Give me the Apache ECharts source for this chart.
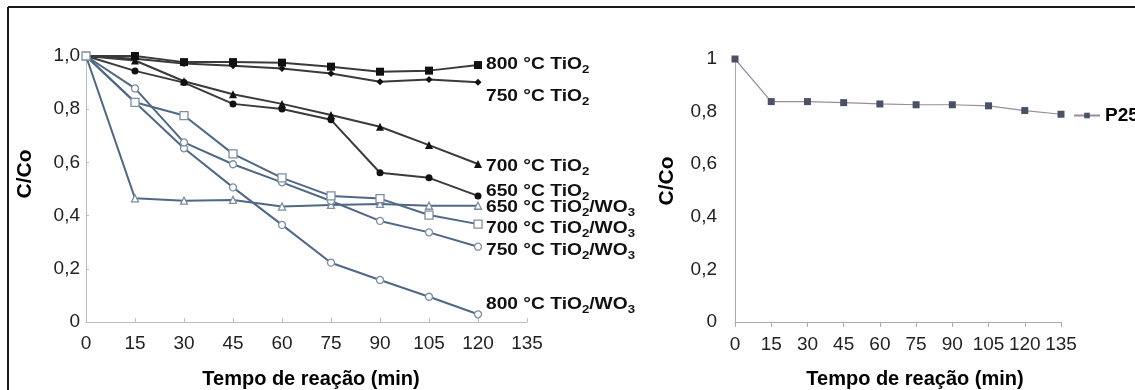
<!DOCTYPE html>
<html>
<head>
<meta charset="utf-8">
<script src="https://cdn.jsdelivr.net/npm/echarts@6/dist/echarts.min.js"></script>
<style>
html,body{margin:0;padding:0;background:#fff;}
#chart{width:1135px;height:390px;}
</style>
</head>
<body>
<div id="chart"></div>
<script>
// ---- data ----
var timeLeft = [0, 15, 30, 45, 60, 75, 90, 105, 120];
var tio2_800 = [1.0, 1.0, 0.977, 0.977, 0.975, 0.96, 0.941, 0.945, 0.966];
var tio2_750 = [1.0, 0.99, 0.972, 0.963, 0.953, 0.934, 0.903, 0.912, 0.901];
var tio2_700 = [1.0, 0.983, 0.905, 0.856, 0.82, 0.778, 0.734, 0.665, 0.594];
var tio2_650 = [1.0, 0.944, 0.9, 0.82, 0.801, 0.76, 0.561, 0.542, 0.474];
var wo3_650 = [1.0, 0.465, 0.456, 0.459, 0.434, 0.44, 0.444, 0.437, 0.437];
var wo3_700 = [1.0, 0.826, 0.776, 0.632, 0.542, 0.474, 0.464, 0.402, 0.368];
var wo3_750 = [1.0, 0.878, 0.675, 0.593, 0.525, 0.455, 0.38, 0.337, 0.283];
var wo3_800 = [1.0, 0.826, 0.653, 0.506, 0.365, 0.223, 0.158, 0.095, 0.029];

var timeRight = [0, 15, 30, 45, 60, 75, 90, 105, 120, 135];
var p25 = [1.0, 0.838, 0.838, 0.834, 0.829, 0.826, 0.826, 0.822, 0.804, 0.79];

var leftLabels = ['800 °C TiO|2', '750 °C TiO|2', '700 °C TiO|2', '650 °C TiO|2',
  '650 °C TiO|2|/WO|3', '700 °C TiO|2|/WO|3', '750 °C TiO|2|/WO|3', '800 °C TiO|2|/WO|3'];
var xTitle = 'Tempo de reação (min)';
var yTitle = 'C/Co';

// ---- helpers ----
var FONT = '"Liberation Sans", Arial, Helvetica, sans-serif';
function pairs(xs, ys) { return xs.map(function (x, i) { return [x, ys[i]]; }); }
function richLabel(spec) {
  var parts = spec.split('|');
  var out = '';
  for (var i = 0; i < parts.length; i++) {
    out += (i % 2 === 0 ? '{b|' : '{s|') + parts[i] + '}';
  }
  return out;
}
var richStyles = {
  b: { font: 'bold 16px ' + FONT, fill: '#111', lineHeight: 20, verticalAlign: 'middle' },
  s: { font: 'bold 11px ' + FONT, fill: '#111', lineHeight: 12, verticalAlign: 'bottom' }
};
function fmtLeft(v) { return v === 0 ? '0' : v.toFixed(1).replace('.', ','); }
function fmtRight(v) { return String(+v.toFixed(1)).replace('.', ','); }

var blackLine = '#3a3a3a', blackMark = '#111';
var blueLine = '#4e6886', openBorder = '#7d8ea0';

function blackSeries(name, data, symbol, size) {
  return {
    type: 'line', name: name, xAxisIndex: 0, yAxisIndex: 0,
    data: pairs(timeLeft, data), symbol: symbol, symbolSize: size,
    lineStyle: { color: blackLine, width: 2 },
    itemStyle: { color: blackMark, borderColor: blackMark, borderWidth: 0 },
    emphasis: { disabled: true }, animation: false, z: 3
  };
}
function blueSeries(name, data, symbol, size) {
  return {
    type: 'line', name: name, xAxisIndex: 0, yAxisIndex: 0,
    data: pairs(timeLeft, data), symbol: symbol, symbolSize: size,
    lineStyle: { color: blueLine, width: 2 },
    itemStyle: { color: '#fff', borderColor: openBorder, borderWidth: 1.3 },
    emphasis: { disabled: true }, animation: false, z: 4
  };
}

// label positions (pixel), placed next to the series ends
var labelPos = [[486, 65], [486, 97], [486, 167], [486, 192], [486, 208], [486, 229], [486, 251], [486, 305]];

var graphics = [
  { type: 'line', shape: { x1: 8, y1: 7, x2: 1135, y2: 7 }, style: { stroke: '#1a1a1a', lineWidth: 2 } },
  { type: 'line', shape: { x1: 8, y1: 7, x2: 8, y2: 390 }, style: { stroke: '#1a1a1a', lineWidth: 2 } },
  { type: 'text', x: 311, y: 379, style: { text: xTitle, font: 'bold 20px ' + FONT, fill: '#000', align: 'center', verticalAlign: 'middle' } },
  { type: 'text', x: 915, y: 379, style: { text: xTitle, font: 'bold 20px ' + FONT, fill: '#000', align: 'center', verticalAlign: 'middle' } },
  { type: 'text', x: 25, y: 174, rotation: Math.PI / 2, style: { text: yTitle, font: 'bold 21px ' + FONT, fill: '#000', align: 'center', verticalAlign: 'middle' } },
  { type: 'text', x: 667, y: 181, rotation: Math.PI / 2, style: { text: yTitle, font: 'bold 21px ' + FONT, fill: '#000', align: 'center', verticalAlign: 'middle' } }
];
leftLabels.forEach(function (l, i) {
  graphics.push({
    type: 'text', x: labelPos[i][0], y: labelPos[i][1], scaleX: 1.2, originX: 0, originY: 0,
    style: { text: richLabel(l), rich: richStyles, align: 'left', verticalAlign: 'middle' }
  });
});

var axisGray = '#bcbcbc';
var option = {
  backgroundColor: '#fff',
  animation: false,
  textStyle: { fontFamily: FONT },
  grid: [
    { left: 86, top: 56, width: 441, height: 266 },
    { left: 735, top: 59, width: 326, height: 263 }
  ],
  legend: {
    data: ['P25'], left: 1073, top: 106, itemWidth: 26, itemHeight: 7, padding: 0,
    textStyle: { fontFamily: FONT, fontSize: 19, fontWeight: 'bold', color: '#000' },
    selectedMode: false
  },
  xAxis: [
    {
      gridIndex: 0, type: 'value', min: 0, max: 135, interval: 15,
      axisLine: { show: true, lineStyle: { color: axisGray, width: 1 } },
      axisTick: { show: true, inside: true, length: 4, lineStyle: { color: axisGray } },
      axisLabel: { fontSize: 19, color: '#222', margin: 12, fontFamily: FONT },
      splitLine: { show: false }
    },
    {
      gridIndex: 1, type: 'value', min: 0, max: 135, interval: 15,
      axisLine: { show: true, lineStyle: { color: '#aaaaaa', width: 1 } },
      axisTick: { show: true, inside: false, length: 5, lineStyle: { color: '#aaaaaa' } },
      axisLabel: { fontSize: 19, color: '#222', margin: 13, fontFamily: FONT },
      splitLine: { show: false }
    }
  ],
  yAxis: [
    {
      gridIndex: 0, type: 'value', min: 0, max: 1, interval: 0.2,
      axisLine: { show: true, lineStyle: { color: axisGray, width: 1 } },
      axisTick: { show: true, inside: true, length: 3, lineStyle: { color: axisGray } },
      axisLabel: { fontSize: 19, color: '#222', margin: 6, formatter: fmtLeft, fontFamily: FONT },
      splitLine: { show: false }
    },
    {
      gridIndex: 1, type: 'value', min: 0, max: 1, interval: 0.2,
      axisLine: { show: true, lineStyle: { color: '#aaaaaa', width: 1 } },
      axisTick: { show: false },
      axisLabel: { fontSize: 19, color: '#222', margin: 18, formatter: fmtRight, fontFamily: FONT },
      splitLine: { show: false }
    }
  ],
  series: [
    blackSeries('800 °C TiO2', tio2_800, 'rect', 8),
    blackSeries('750 °C TiO2', tio2_750, 'diamond', 7),
    blackSeries('700 °C TiO2', tio2_700, 'triangle', 8),
    blackSeries('650 °C TiO2', tio2_650, 'circle', 7),
    blueSeries('650 °C TiO2/WO3', wo3_650, 'triangle', 7),
    blueSeries('800 °C TiO2/WO3', wo3_800, 'circle', 7),
    blueSeries('750 °C TiO2/WO3', wo3_750, 'circle', 7),
    blueSeries('700 °C TiO2/WO3', wo3_700, 'rect', 8),
    {
      type: 'line', name: 'P25', xAxisIndex: 1, yAxisIndex: 1,
      data: pairs(timeRight, p25), symbol: 'rect', symbolSize: 7,
      lineStyle: { color: '#9d8b99', width: 1.2 },
      itemStyle: { color: '#4a5167' },
      emphasis: { disabled: true }, animation: false
    }
  ],
  graphic: graphics
};

var chart = echarts.init(document.getElementById('chart'), null, { renderer: 'canvas' });
chart.setOption(option);
</script>
</body>
</html>
